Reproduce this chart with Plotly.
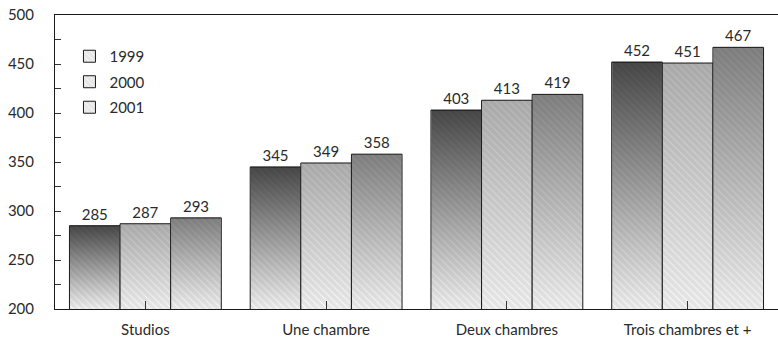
import plotly.graph_objects as go

categories = ["Studios", "Une chambre", "Deux chambres", "Trois chambres et +"]
years = ["1999", "2000", "2001"]
values_1999 = [285, 345, 403, 452]
values_2000 = [287, 349, 413, 451]
values_2001 = [293, 358, 419, 467]
series = [values_1999, values_2000, values_2001]

# darkness of each series at the top of its bars (black overlay opacity)
top_shade = [0.70, 0.27, 0.46]

y_min, y_max = 200, 500
bargap = 0.16
bar_w = (1 - bargap) / len(years)
xpos = list(range(len(categories)))
bar_bg = "#e6e6e6"

fig = go.Figure()

for k, (year, vals) in enumerate(zip(years, series)):
    fig.add_trace(go.Bar(
        x=xpos, y=vals, name=year, legendgroup=year,
        marker=dict(
            color=bar_bg,
            line=dict(color="#1a1a1a", width=1),
            pattern=dict(shape="\\", fgcolor="#ffffff", bgcolor=bar_bg,
                         size=5, solidity=0.2, fgopacity=0.9),
        ),
        text=[str(v) for v in vals], textposition="outside",
        textfont=dict(size=15, color="#2a2a2a"),
        cliponaxis=False,
    ))

# vertical shading over each bar, darker toward the top
for k, vals in enumerate(series):
    a = top_shade[k]
    for c, v in zip(xpos, vals):
        cx = c + (k - 1) * bar_w
        x0, x1 = cx - bar_w / 2 + 0.003, cx + bar_w / 2 - 0.003
        fig.add_trace(go.Scatter(
            x=[x0, x1, x1, x0, x0], y=[y_min, y_min, v, v, y_min],
            mode="lines", line=dict(width=0), fill="toself",
            fillgradient=dict(type="vertical", start=y_min, stop=v,
                              colorscale=[[0, "rgba(0,0,0,0)"], [1, f"rgba(0,0,0,{a})"]]),
            showlegend=False, hoverinfo="skip",
        ))

fig.update_layout(
    width=778, height=339,
    margin=dict(l=55, r=0, t=15, b=30),
    paper_bgcolor="white", plot_bgcolor="white",
    barmode="group", bargap=bargap, bargroupgap=0,
    font=dict(family="Lato, DejaVu Sans, sans-serif", size=15, color="#2a2a2a"),
    showlegend=True,
    legend=dict(x=0.02, y=0.915, xanchor="left", yanchor="top",
                bgcolor="rgba(0,0,0,0)", font=dict(size=15),
                tracegroupgap=3, itemwidth=30),
    xaxis=dict(
        range=[-0.5, len(categories) - 0.5],
        tickmode="array", tickvals=xpos, ticktext=categories,
        showline=True, linecolor="#1a1a1a", linewidth=1, mirror=True,
        ticks="inside", ticklen=8, tickcolor="#333",
        ticklabelstandoff=7,
        showgrid=False, zeroline=False, fixedrange=True,
    ),
    yaxis=dict(
        range=[y_min, y_max], dtick=50, tick0=0,
        showline=True, linecolor="#1a1a1a", linewidth=1,
        ticks="inside", ticklen=6, tickcolor="#333",
        minor=dict(dtick=25, ticks="inside", ticklen=6, tickcolor="#333"),
        ticklabelstandoff=17,
        showgrid=False, zeroline=False,
    ),
)

fig.write_html("out.html")
